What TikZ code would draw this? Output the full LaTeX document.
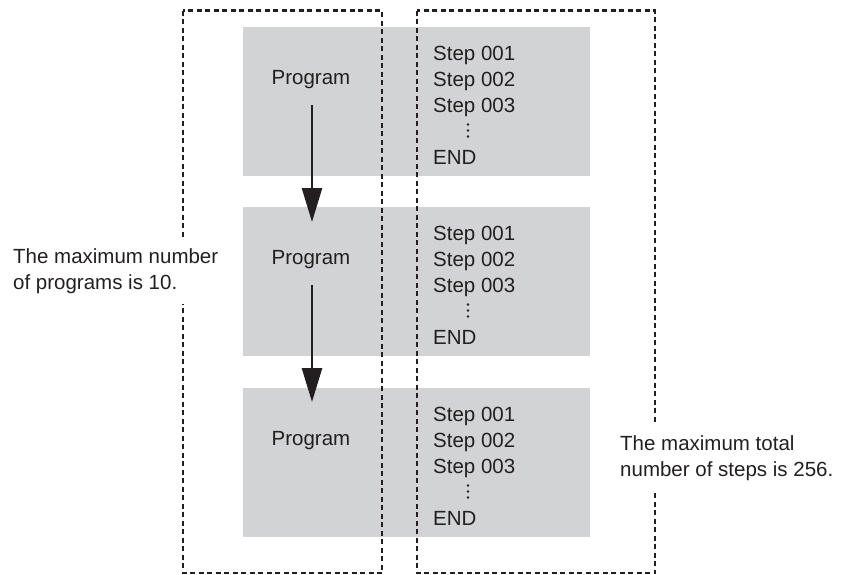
\documentclass[tikz,border=0pt]{standalone}
\usepackage{fontspec}
\setmainfont{Liberation Sans}
\usetikzlibrary{arrows.meta}
\definecolor{boxgrey}{RGB}{209,211,212}
\definecolor{txt}{RGB}{35,31,32}
\tikzset{
  dotline/.style={draw=txt, line width=2.8pt, dash pattern=on 5pt off 3.5pt},
  greybox/.style={fill=boxgrey, draw=none},
  lbl/.style={font=\fontsize{20.5}{25.5}\selectfont, text=txt, inner sep=0pt},
  steptxt/.style={lbl, anchor=base west},
  flowarrow/.style={draw=txt, line width=2.5pt, -{Triangle[width=20pt,length=34pt]}},
  dotmark/.style={fill=txt, draw=none},
  sidelabel/.style={lbl, align=left, fill=white, inner xsep=3pt, inner ysep=11pt, anchor=west}
}
\begin{document}
\begin{tikzpicture}[x=1pt,y=-1pt]
\useasboundingbox (0,0) rectangle (843,574);
% grey boxes and their texts
\foreach \i/\dy in {1/0,2/180,3/361}{
  \begin{scope}[yshift=-\dy pt]
    \path[greybox] (243,27) rectangle (590,176);
    \node[lbl] (prog\i) at (311,80) {Program};
    \node[steptxt] (s1\i) at (433,60) {Step 001};
    \node[steptxt] (s2\i) at (433,86) {Step 002};
    \node[steptxt] (s3\i) at (433,112) {Step 003};
    \foreach \yy in {124.5,130.5,136.5}{\path[dotmark] (468,\yy) circle (1.3pt);}
    \node[steptxt] (end\i) at (433,164) {END};
    \coordinate (as\i) at (312,105);
    \coordinate (ae\i) at (312,222);
  \end{scope}
}
% dotted frames
\draw[dotline] (183,10.5) rectangle (382,573);
\draw[dotline] (417,10.5) rectangle (655,573);
% side labels
\node[sidelabel] (leftlbl) at (10,271) {The maximum number\\of programs is 10.};
\node[sidelabel] (rightlbl) at (617,458) {The maximum total\\number of steps is 256.};
% arrows
\draw[flowarrow] (as1) -- (ae1);
\draw[flowarrow] (as2) -- (ae2);
\end{tikzpicture}
\end{document}
